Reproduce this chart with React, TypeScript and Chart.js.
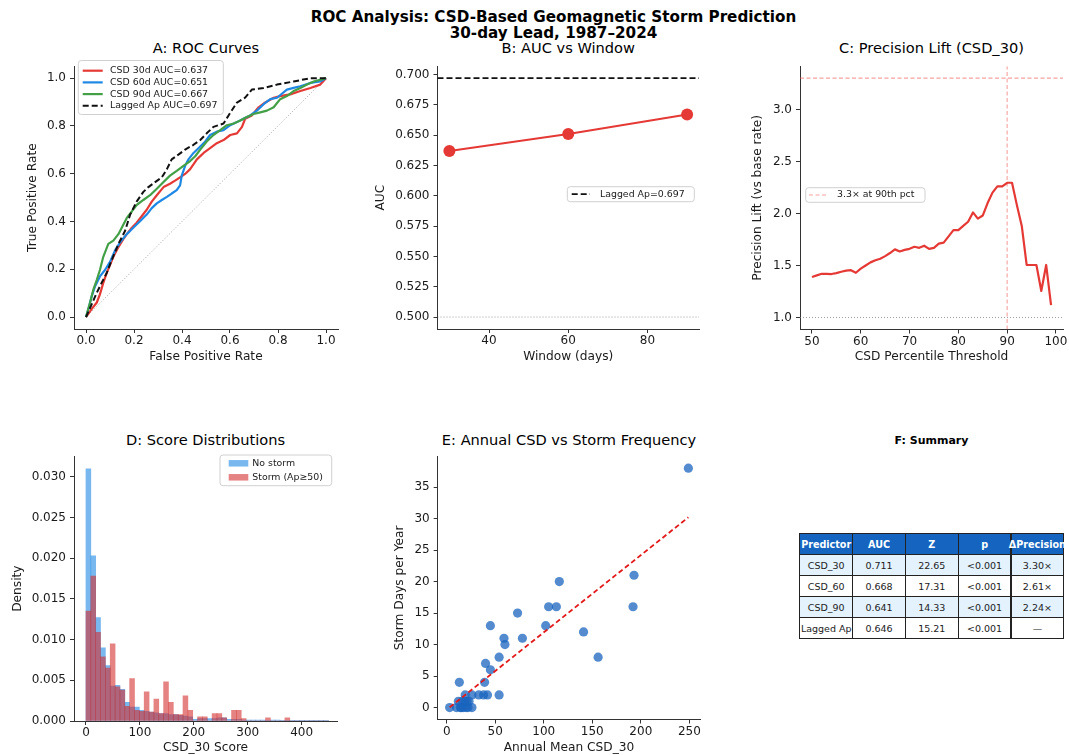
import React, { useEffect, useRef } from "react";
import { Chart, registerables } from "chart.js";

Chart.register(...registerables);

const FONT = "'DejaVu Sans', 'Noto Sans', sans-serif";

// ================= DATA =================
// Panel A – ROC curves (false positive rate / true positive rate)
const ROC30_FPR = [0, 0.024, 0.045, 0.058, 0.072, 0.086, 0.114, 0.135, 0.156, 0.17, 0.191, 0.211, 0.232, 0.253, 0.274, 0.295, 0.323, 0.35, 0.371, 0.392, 0.413, 0.434, 0.462, 0.49, 0.517, 0.545, 0.573, 0.601, 0.629, 0.65, 0.663, 0.691, 0.719, 0.747, 0.782, 0.809, 0.851, 0.893, 0.935, 0.976, 1];
const ROC30_TPR = [0, 0.034, 0.061, 0.095, 0.143, 0.184, 0.252, 0.293, 0.327, 0.347, 0.374, 0.395, 0.422, 0.449, 0.483, 0.51, 0.544, 0.558, 0.571, 0.585, 0.599, 0.619, 0.66, 0.687, 0.707, 0.728, 0.741, 0.762, 0.769, 0.796, 0.83, 0.844, 0.878, 0.898, 0.918, 0.925, 0.932, 0.946, 0.959, 0.973, 1];
const ROC60_FPR = [0, 0.01, 0.024, 0.038, 0.058, 0.079, 0.1, 0.121, 0.142, 0.17, 0.197, 0.225, 0.253, 0.274, 0.295, 0.316, 0.337, 0.357, 0.378, 0.392, 0.399, 0.413, 0.427, 0.448, 0.476, 0.497, 0.517, 0.545, 0.573, 0.601, 0.629, 0.656, 0.684, 0.712, 0.74, 0.768, 0.796, 0.837, 0.865, 0.893, 0.935, 0.976, 1];
const ROC60_TPR = [0, 0.034, 0.088, 0.129, 0.17, 0.197, 0.231, 0.279, 0.313, 0.347, 0.374, 0.401, 0.429, 0.456, 0.476, 0.49, 0.503, 0.517, 0.531, 0.551, 0.592, 0.633, 0.66, 0.687, 0.714, 0.735, 0.762, 0.776, 0.782, 0.803, 0.816, 0.83, 0.844, 0.864, 0.891, 0.912, 0.918, 0.952, 0.959, 0.966, 0.98, 0.986, 1];
const ROC90_FPR = [0, 0.017, 0.031, 0.045, 0.058, 0.072, 0.093, 0.114, 0.135, 0.149, 0.17, 0.191, 0.211, 0.239, 0.267, 0.295, 0.323, 0.35, 0.378, 0.406, 0.434, 0.455, 0.476, 0.503, 0.531, 0.559, 0.587, 0.615, 0.643, 0.67, 0.698, 0.726, 0.754, 0.782, 0.809, 0.837, 0.865, 0.893, 0.921, 0.949, 1];
const ROC90_TPR = [0, 0.061, 0.116, 0.156, 0.197, 0.252, 0.306, 0.32, 0.347, 0.374, 0.415, 0.442, 0.469, 0.49, 0.51, 0.537, 0.565, 0.592, 0.612, 0.633, 0.653, 0.673, 0.701, 0.735, 0.762, 0.782, 0.803, 0.81, 0.823, 0.837, 0.85, 0.857, 0.864, 0.878, 0.912, 0.925, 0.946, 0.959, 0.973, 0.986, 1];
const ROCAP_FPR = [0, 0.024, 0.045, 0.065, 0.086, 0.107, 0.135, 0.163, 0.184, 0.211, 0.239, 0.26, 0.288, 0.316, 0.337, 0.357, 0.385, 0.413, 0.448, 0.476, 0.503, 0.531, 0.573, 0.594, 0.629, 0.663, 0.691, 0.74, 0.796, 0.865, 0.935, 1];
const ROCAP_TPR = [0, 0.054, 0.102, 0.143, 0.184, 0.238, 0.306, 0.361, 0.429, 0.483, 0.524, 0.544, 0.565, 0.585, 0.619, 0.66, 0.68, 0.701, 0.721, 0.741, 0.769, 0.796, 0.81, 0.844, 0.898, 0.918, 0.952, 0.959, 0.973, 0.986, 1, 1];
const CHANCE_DIAG = [0, 1];
const ROC_LABELS = ["CSD 30d AUC=0.637", "CSD 60d AUC=0.651", "CSD 90d AUC=0.667", "Lagged Ap AUC=0.697"];

// Panel B – AUC vs window
const WINDOW_DAYS = [30, 60, 90];
const WINDOW_AUC = [0.637, 0.651, 0.667];
const LAGGED_AP_AUC = 0.697;
const CHANCE_AUC = 0.5;
const B_LEGEND_LABEL = "Lagged Ap=0.697";

// Panel C – precision lift
const PCT_THRESHOLDS = [50, 51, 52, 53, 54, 55, 56, 57, 58, 59, 60, 61, 62, 63, 64, 65, 66, 67, 68, 69, 70, 71, 72, 73, 74, 75, 76, 77, 78, 79, 80, 81, 82, 83, 84, 85, 86, 87, 88, 89, 90, 91, 92, 93, 94, 95, 96, 97, 98, 99];
const PRECISION_LIFT = [1.39, 1.405, 1.42, 1.42, 1.418, 1.427, 1.44, 1.45, 1.455, 1.43, 1.47, 1.5, 1.53, 1.55, 1.565, 1.59, 1.62, 1.655, 1.635, 1.65, 1.66, 1.68, 1.67, 1.69, 1.66, 1.67, 1.71, 1.72, 1.78, 1.84, 1.84, 1.88, 1.92, 2.01, 1.95, 1.98, 2.1, 2.2, 2.26, 2.26, 2.295, 2.295, 2.08, 1.88, 1.505, 1.505, 1.505, 1.255, 1.505, 1.12];
const PEAK_LIFT = 3.3;
const PEAK_PCT = 90;
const BASE_LIFT = 1.0;
const C_LEGEND_LABEL = "3.3× at 90th pct";

// Panel D – score distributions (density histograms)
const HIST_BIN_WIDTH = 9;
const HIST_BIN_LEFT = [0, 9, 18, 27, 36, 45, 54, 63, 72, 81, 90, 99, 108, 117, 126, 135, 144, 153, 162, 171, 180, 189, 198, 207, 216, 225, 234, 243, 252, 261, 270, 279, 288, 297, 306, 315, 324, 333, 342, 351, 360, 369, 378, 387, 396, 405, 414, 423, 432, 441];
const DENSITY_NO_STORM = [0.031, 0.0203, 0.0127, 0.009, 0.0068, 0.0043, 0.0044, 0.0039, 0.0023, 0.0017, 0.0017, 0.0013, 0.0012, 0.0011, 0.001, 0.0009, 0.0009, 0.0008, 0.0008, 0.0007, 0.0006, 0.0005, 0.0002, 0.0003, 0.0003, 0.0003, 0.0003, 0.0004, 0.0004, 0.0002, 0.0002, 0.0002, 0.0001, 0.0001, 0.0001, 0.0001, 0.0001, 0.00005, 0.0001, 0.0001, 0.00005, 0.00005, 0.00003, 0.00003, 0.00002, 0.00002, 0.00002, 0.00001, 0.00001, 0.00001];
const DENSITY_STORM = [0.0135, 0.0178, 0.0109, 0.0079, 0.0065, 0.0095, 0.0042, 0.0038, 0.0018, 0.0052, 0.0013, 0.0012, 0.0036, 0.0011, 0.0027, 0.0009, 0.0048, 0.0023, 0.0008, 0.0008, 0.0031, 0.0013, 0, 0.0005, 0.0005, 0, 0.0009, 0.0009, 0.0004, 0, 0.0013, 0.0013, 0.0003, 0, 0, 0, 0, 0.0004, 0, 0, 0, 0.0004, 0, 0, 0, 0, 0, 0, 0, 0];
const D_LEGEND_LABELS = ["No storm", "Storm (Ap≥50)"];

// Panel E – annual CSD vs storm frequency
const ANNUAL_CSD30 = [3, 10, 14, 17, 20, 22, 26, 12, 16, 19, 23, 19, 26, 33, 38, 42, 54, 13, 39, 45, 40, 54, 60, 59, 78, 45, 102, 73, 105, 113, 116, 141, 156, 192, 193, 249, 15, 21];
const STORM_DAYS = [0, 0, 0, 0, 0, 0, 0, 1, 1, 1, 1, 2, 2, 2, 2, 2, 2, 4, 4, 6, 7, 8, 10, 11, 11, 13, 13, 15, 16, 16, 20, 12, 8, 16, 21, 38, 0, 1];
const FIT_SLOPE = 0.1226;
const FIT_INTERCEPT = -0.33;

// Panel F – summary table
const TABLE_HEADER = ["Predictor", "AUC", "Z", "p", "ΔPrecision"];
const TABLE_PREDICTOR = ["CSD_30", "CSD_60", "CSD_90", "Lagged Ap"];
const TABLE_AUC = ["0.711", "0.668", "0.641", "0.646"];
const TABLE_Z = ["22.65", "17.31", "14.33", "15.21"];
const TABLE_P = ["<0.001", "<0.001", "<0.001", "<0.001"];
const TABLE_DPREC = ["3.30×", "2.61×", "2.24×", "—"];

// Titles / tick labels
const SUPTITLE = ["ROC Analysis: CSD-Based Geomagnetic Storm Prediction", "30-day Lead, 1987–2024"];
const PANEL_TITLES = ["A: ROC Curves", "B: AUC vs Window", "C: Precision Lift (CSD_30)", "D: Score Distributions", "E: Annual CSD vs Storm Frequency"];
const F_TITLE = "F: Summary";
const A_TICKS = [0, 0.2, 0.4, 0.6, 0.8, 1.0];
const B_X_TICKS = [40, 60, 80];
const B_Y_TICKS = [0.5, 0.525, 0.55, 0.575, 0.6, 0.625, 0.65, 0.675, 0.7];
const C_X_TICKS = [50, 60, 70, 80, 90, 100];
const C_Y_TICKS = [1.0, 1.5, 2.0, 2.5, 3.0];
const D_X_TICKS = [0, 100, 200, 300, 400];
const D_Y_TICKS = [0, 0.005, 0.01, 0.015, 0.02, 0.025, 0.03];
const E_X_TICKS = [0, 50, 100, 150, 200, 250];
const E_Y_TICKS = [0, 5, 10, 15, 20, 25, 30, 35];

// ================= STYLE / LAYOUT =================
const RED = "#e53935";
const BLUE = "#1e88e5";
const GREEN = "#43a047";
const HIST_BLUE = "rgba(30,136,229,0.6)";
const HIST_RED = "rgba(211,47,47,0.6)";
const TEXT = "#1a1a1a";
const SPINE = "#333333";
const TICK_FS = 12;
const LABEL_FS = 12.2;
const TITLE_FS = 14.6;
const LEGEND_FS = 9.4;

type Box = { left: number; top: number; width: number; height: number };
type Area = { L: number; T: number; R: number; B: number };
type Panel = { box: Box; area: Area; yTitleX: number; xTitleY: number; titleY: number };

const PA: Panel = { box: { left: 10, top: 55, width: 335, height: 317 }, area: { L: 74, T: 60, R: 338, B: 329 }, yTitleX: 33, xTitleY: 356.5, titleY: 48 };
const PB: Panel = { box: { left: 365, top: 55, width: 342, height: 317 }, area: { L: 437.5, T: 60, R: 699, B: 329 }, yTitleX: 380.5, xTitleY: 356.5, titleY: 48 };
const PC: Panel = { box: { left: 745, top: 55, width: 324, height: 317 }, area: { L: 800, T: 59.5, R: 1063, B: 329.5 }, yTitleX: 758.3, xTitleY: 356.5, titleY: 48 };
const PD: Panel = { box: { left: 5, top: 445, width: 345, height: 312 }, area: { L: 74, T: 450.7, R: 337, B: 721 }, yTitleX: 18.3, xTitleY: 748, titleY: 440 };
const PE: Panel = { box: { left: 385, top: 445, width: 325, height: 312 }, area: { L: 437.7, T: 451.3, R: 700.3, B: 719.5 }, yTitleX: 400, xTitleY: 748, titleY: 440 };

const A_RANGE = { xmin: -0.05, xmax: 1.05, ymin: -0.05, ymax: 1.05 };
const B_RANGE = { xmin: 27, xmax: 93, ymin: 0.49015, ymax: 0.70685 };
const C_RANGE = { xmin: 47.55, xmax: 101.45, ymin: 0.885, ymax: 3.415 };
const D_RANGE = { xmin: -22.2, xmax: 465.6, ymin: 0, ymax: 0.03255 };
const E_RANGE = { xmin: -9.3, xmax: 261.3, ymin: -1.9, ymax: 39.9 };

const SUP_CX = 553.5;
const SUP_Y = [17, 33];
const F_TITLE_POS = { cx: 931.5, cy: 441 };
const TABLE_POS = { left: 799.3, top: 533.3, colW: 52.8, rowH: 21 };

// ================= HELPERS =================
const xy = (xs: number[], ys: number[]) => xs.map((x, i) => ({ x, y: ys[i] }));

function makeAxis(kind: "x" | "y", p: Panel, cfg: { min: number; max: number; ticks: number[]; digits: number; title: string }) {
  const { box, area } = p;
  const isX = kind === "x";
  const size = isX ? box.top + box.height - area.B : area.L - box.left;
  const half = (LABEL_FS * 1.2) / 2;
  const titlePad = isX ? box.top + box.height - p.xTitleY - half : p.yTitleX - box.left - half;
  return {
    type: "linear",
    position: isX ? "bottom" : "left",
    min: cfg.min,
    max: cfg.max,
    bounds: "data",
    offset: false,
    afterBuildTicks: (s: any) => {
      s.ticks = cfg.ticks.map((v) => ({ value: v }));
    },
    afterFit: (s: any) => {
      if (isX) s.height = size;
      else s.width = size;
    },
    ticks: {
      autoSkip: false,
      maxRotation: 0,
      minRotation: 0,
      padding: isX ? 1 : 4,
      color: TEXT,
      font: { family: FONT, size: TICK_FS },
      callback: (v: any) => Number(v).toFixed(cfg.digits),
    },
    grid: { display: true, drawOnChartArea: false, drawTicks: true, tickLength: 4, color: SPINE, lineWidth: 1, offset: false },
    border: { display: true, color: SPINE, width: 1 },
    title: {
      display: true,
      text: cfg.title,
      color: TEXT,
      font: { family: FONT, size: LABEL_FS },
      padding: isX ? { top: 0, bottom: titlePad } : { top: titlePad, bottom: 0 },
    },
  };
}

function baseOptions(p: Panel, x: any, y: any) {
  const { box, area } = p;
  return {
    responsive: false,
    maintainAspectRatio: false,
    animation: false,
    events: [],
    layout: { padding: { left: 0, bottom: 0, top: area.T - box.top, right: box.left + box.width - area.R } },
    plugins: { legend: { display: false }, title: { display: false }, tooltip: { enabled: false } },
    scales: { x, y },
  };
}

type LegendItem = { label: string; color: string; kind: "line" | "patch"; dash?: number[]; width?: number };
type LegendCfg = { left: number; top: number; width: number; height: number; firstRowY: number; rowStep: number; sx0: number; sx1: number; textX: number; patchH?: number; items: LegendItem[] };

function legendPlugin(box: Box, cfg: LegendCfg) {
  return {
    id: "panelLegend",
    afterDraw(chart: any) {
      const ctx: CanvasRenderingContext2D = chart.ctx;
      const ox = cfg.left - box.left;
      const oy = cfg.top - box.top;
      const r = 3;
      ctx.save();
      ctx.beginPath();
      ctx.moveTo(ox + r, oy);
      ctx.lineTo(ox + cfg.width - r, oy);
      ctx.quadraticCurveTo(ox + cfg.width, oy, ox + cfg.width, oy + r);
      ctx.lineTo(ox + cfg.width, oy + cfg.height - r);
      ctx.quadraticCurveTo(ox + cfg.width, oy + cfg.height, ox + cfg.width - r, oy + cfg.height);
      ctx.lineTo(ox + r, oy + cfg.height);
      ctx.quadraticCurveTo(ox, oy + cfg.height, ox, oy + cfg.height - r);
      ctx.lineTo(ox, oy + r);
      ctx.quadraticCurveTo(ox, oy, ox + r, oy);
      ctx.closePath();
      ctx.fillStyle = "rgba(255,255,255,0.85)";
      ctx.fill();
      ctx.strokeStyle = "#d0d0d0";
      ctx.lineWidth = 1;
      ctx.stroke();
      ctx.font = `${LEGEND_FS}px ${FONT}`;
      ctx.textBaseline = "middle";
      ctx.textAlign = "left";
      cfg.items.forEach((it, i) => {
        const cy = cfg.firstRowY - box.top + i * cfg.rowStep;
        const x0 = cfg.sx0 - box.left;
        const x1 = cfg.sx1 - box.left;
        if (it.kind === "patch") {
          const h = cfg.patchH || 6.5;
          ctx.fillStyle = it.color;
          ctx.fillRect(x0, cy - h / 2, x1 - x0, h);
        } else {
          ctx.setLineDash(it.dash || []);
          ctx.strokeStyle = it.color;
          ctx.lineWidth = it.width || 2;
          ctx.beginPath();
          ctx.moveTo(x0, cy);
          ctx.lineTo(x1, cy);
          ctx.stroke();
          ctx.setLineDash([]);
        }
        ctx.fillStyle = TEXT;
        ctx.fillText(it.label, cfg.textX - box.left, cy);
      });
      ctx.restore();
    },
  };
}

const lineDs = (data: any[], color: string, width: number, order: number, dash: number[] = []) => ({
  data,
  showLine: true,
  fill: false,
  borderColor: color,
  backgroundColor: color,
  borderWidth: width,
  borderDash: dash,
  borderJoinStyle: "round",
  pointRadius: 0,
  pointHoverRadius: 0,
  tension: 0,
  order,
});

// ================= CHART CONFIGS =================
function configA(): any {
  const x = makeAxis("x", PA, { min: A_RANGE.xmin, max: A_RANGE.xmax, ticks: A_TICKS, digits: 1, title: "False Positive Rate" });
  const y = makeAxis("y", PA, { min: A_RANGE.ymin, max: A_RANGE.ymax, ticks: A_TICKS, digits: 1, title: "True Positive Rate" });
  return {
    type: "scatter",
    data: {
      datasets: [
        lineDs(xy(ROCAP_FPR, ROCAP_TPR), "#111111", 2, 0, [6, 3]),
        lineDs(xy(ROC90_FPR, ROC90_TPR), GREEN, 2.2, 1),
        lineDs(xy(ROC60_FPR, ROC60_TPR), BLUE, 2.2, 2),
        lineDs(xy(ROC30_FPR, ROC30_TPR), RED, 2.2, 3),
        lineDs(xy(CHANCE_DIAG, CHANCE_DIAG), "rgba(110,110,110,0.8)", 0.8, 4, [1, 2]),
      ],
    },
    options: baseOptions(PA, x, y),
    plugins: [
      legendPlugin(PA.box, {
        left: 78.3, top: 60.5, width: 145, height: 54, firstRowY: 70.7, rowStep: 11.7, sx0: 82.7, sx1: 102.7, textX: 110,
        items: [
          { label: ROC_LABELS[0], color: RED, kind: "line", width: 2.2 },
          { label: ROC_LABELS[1], color: BLUE, kind: "line", width: 2.2 },
          { label: ROC_LABELS[2], color: GREEN, kind: "line", width: 2.2 },
          { label: ROC_LABELS[3], color: "#111111", kind: "line", width: 2, dash: [6, 3] },
        ],
      }),
    ],
  };
}

function configB(): any {
  const x = makeAxis("x", PB, { min: B_RANGE.xmin, max: B_RANGE.xmax, ticks: B_X_TICKS, digits: 0, title: "Window (days)" });
  const y = makeAxis("y", PB, { min: B_RANGE.ymin, max: B_RANGE.ymax, ticks: B_Y_TICKS, digits: 3, title: "AUC" });
  const main = lineDs(xy(WINDOW_DAYS, WINDOW_AUC), RED, 2, 0);
  Object.assign(main, { pointRadius: 6, pointBackgroundColor: RED, pointBorderWidth: 0 });
  return {
    type: "scatter",
    data: {
      datasets: [
        main,
        lineDs(xy([B_RANGE.xmin, B_RANGE.xmax], [LAGGED_AP_AUC, LAGGED_AP_AUC]), "#111111", 1.8, 1, [6, 3]),
        lineDs(xy([B_RANGE.xmin, B_RANGE.xmax], [CHANCE_AUC, CHANCE_AUC]), "rgba(120,120,120,0.8)", 0.9, 2, [1, 2]),
      ],
    },
    options: baseOptions(PB, x, y),
    plugins: [
      legendPlugin(PB.box, {
        left: 567.3, top: 186.7, width: 127, height: 15, firstRowY: 194.2, rowStep: 12, sx0: 571.7, sx1: 590, textX: 600,
        items: [{ label: B_LEGEND_LABEL, color: "#111111", kind: "line", width: 1.8, dash: [6, 3] }],
      }),
    ],
  };
}

function configC(): any {
  const x = makeAxis("x", PC, { min: C_RANGE.xmin, max: C_RANGE.xmax, ticks: C_X_TICKS, digits: 0, title: "CSD Percentile Threshold" });
  const y = makeAxis("y", PC, { min: C_RANGE.ymin, max: C_RANGE.ymax, ticks: C_Y_TICKS, digits: 1, title: "Precision Lift (vs base rate)" });
  const guide = "rgba(239,83,80,0.55)";
  return {
    type: "scatter",
    data: {
      datasets: [
        lineDs(xy(PCT_THRESHOLDS, PRECISION_LIFT), RED, 2.2, 0),
        lineDs(xy([PEAK_PCT, PEAK_PCT], [C_RANGE.ymin, C_RANGE.ymax]), guide, 1.1, 1, [4, 2.5]),
        lineDs(xy([C_RANGE.xmin, C_RANGE.xmax], [PEAK_LIFT, PEAK_LIFT]), guide, 1.1, 2, [4, 2.5]),
        lineDs(xy([C_RANGE.xmin, C_RANGE.xmax], [BASE_LIFT, BASE_LIFT]), "rgba(120,120,120,0.8)", 0.9, 3, [1, 2]),
      ],
    },
    options: baseOptions(PC, x, y),
    plugins: [
      legendPlugin(PC.box, {
        left: 805.7, top: 187.7, width: 119.3, height: 14.6, firstRowY: 195, rowStep: 12, sx0: 809, sx1: 827.5, textX: 837,
        items: [{ label: C_LEGEND_LABEL, color: guide, kind: "line", width: 1.1, dash: [4, 2.5] }],
      }),
    ],
  };
}

function configD(): any {
  const x = makeAxis("x", PD, { min: D_RANGE.xmin, max: D_RANGE.xmax, ticks: D_X_TICKS, digits: 0, title: "CSD_30 Score" });
  const y = makeAxis("y", PD, { min: D_RANGE.ymin, max: D_RANGE.ymax, ticks: D_Y_TICKS, digits: 3, title: "Density" });
  const centers = HIST_BIN_LEFT.map((e) => e + HIST_BIN_WIDTH / 2);
  const bar = (vals: number[], color: string, order: number) => ({
    data: xy(centers, vals),
    backgroundColor: color,
    borderWidth: 0,
    barPercentage: 1,
    categoryPercentage: 1,
    grouped: false,
    order,
  });
  return {
    type: "bar",
    data: { datasets: [bar(DENSITY_STORM, HIST_RED, 0), bar(DENSITY_NO_STORM, HIST_BLUE, 1)] },
    options: baseOptions(PD, x, y),
    plugins: [
      legendPlugin(PD.box, {
        left: 220, top: 455, width: 111.7, height: 30.7, firstRowY: 463.3, rowStep: 14, sx0: 228.7, sx1: 248.3, textX: 252.3, patchH: 6.5,
        items: [
          { label: D_LEGEND_LABELS[0], color: HIST_BLUE, kind: "patch" },
          { label: D_LEGEND_LABELS[1], color: HIST_RED, kind: "patch" },
        ],
      }),
    ],
  };
}

function configE(): any {
  const x = makeAxis("x", PE, { min: E_RANGE.xmin, max: E_RANGE.xmax, ticks: E_X_TICKS, digits: 0, title: "Annual Mean CSD_30" });
  const y = makeAxis("y", PE, { min: E_RANGE.ymin, max: E_RANGE.ymax, ticks: E_Y_TICKS, digits: 0, title: "Storm Days per Year" });
  const xLo = Math.min(...ANNUAL_CSD30);
  const xHi = Math.max(...ANNUAL_CSD30);
  const fitX = [xLo, xHi];
  const fitY = fitX.map((v) => FIT_SLOPE * v + FIT_INTERCEPT);
  return {
    type: "scatter",
    data: {
      datasets: [
        lineDs(xy(fitX, fitY), "#e31a1c", 1.8, 0, [5, 3]),
        {
          data: xy(ANNUAL_CSD30, STORM_DAYS),
          pointRadius: 4.6,
          pointBackgroundColor: "rgba(25,100,190,0.75)",
          pointBorderWidth: 0,
          showLine: false,
          order: 1,
        },
      ],
    },
    options: baseOptions(PE, x, y),
  };
}

// ================= COMPONENT =================
function Title({ text, cx, cy, size, bold }: { text: string; cx: number; cy: number; size: number; bold?: boolean }) {
  const lh = Math.round(size * 1.25);
  return (
    <div
      style={{
        position: "absolute",
        left: cx - 300,
        width: 600,
        top: cy - lh / 2,
        height: lh,
        lineHeight: `${lh}px`,
        textAlign: "center",
        whiteSpace: "nowrap",
        fontSize: size,
        fontWeight: bold ? "bold" : "normal",
        color: "#000",
      }}
    >
      {text}
    </div>
  );
}

function SummaryTable() {
  const rows = [TABLE_HEADER, ...TABLE_PREDICTOR.map((p, i) => [p, TABLE_AUC[i], TABLE_Z[i], TABLE_P[i], TABLE_DPREC[i]])];
  const { left, top, colW, rowH } = TABLE_POS;
  const cells: any[] = [];
  rows.forEach((row, r) => {
    row.forEach((txt, c) => {
      const header = r === 0;
      const bg = header ? "#1565c0" : r % 2 === 1 ? "#e3f2fd" : "#ffffff";
      cells.push(
        <div
          key={`${r}-${c}`}
          style={{
            position: "absolute",
            left: left + c * colW,
            top: top + r * rowH,
            width: colW + 1,
            height: rowH + 1,
            boxSizing: "border-box",
            border: "1px solid #222",
            background: bg,
            display: "flex",
            alignItems: "center",
            justifyContent: "center",
            whiteSpace: "nowrap",
            fontSize: header ? 9.6 : 9.5,
            fontWeight: header ? "bold" : "normal",
            color: header ? "#ffffff" : "#222",
            overflow: "visible",
          }}
        >
          <span>{txt}</span>
        </div>
      );
    });
  });
  return <>{cells}</>;
}

export default function App() {
  const refA = useRef<HTMLCanvasElement>(null);
  const refB = useRef<HTMLCanvasElement>(null);
  const refC = useRef<HTMLCanvasElement>(null);
  const refD = useRef<HTMLCanvasElement>(null);
  const refE = useRef<HTMLCanvasElement>(null);

  useEffect(() => {
    Chart.defaults.font.family = FONT;
    Chart.defaults.color = TEXT;
    const charts: Chart[] = [];
    const pairs: [React.RefObject<HTMLCanvasElement>, () => any][] = [
      [refA, configA],
      [refB, configB],
      [refC, configC],
      [refD, configD],
      [refE, configE],
    ];
    pairs.forEach(([ref, cfg]) => {
      if (ref.current) charts.push(new Chart(ref.current, cfg()));
    });
    return () => charts.forEach((c) => c.destroy());
  }, []);

  const canvas = (ref: React.RefObject<HTMLCanvasElement>, p: Panel) => (
    <canvas
      ref={ref}
      width={p.box.width}
      height={p.box.height}
      style={{ position: "absolute", left: p.box.left, top: p.box.top, width: p.box.width, height: p.box.height }}
    />
  );

  const panels = [PA, PB, PC, PD, PE];

  return (
    <div
      style={{
        position: "absolute",
        left: 0,
        top: 0,
        width: 1069,
        height: 755,
        overflow: "hidden",
        background: "#ffffff",
        fontFamily: FONT,
      }}
    >
      {SUPTITLE.map((t, i) => (
        <Title key={t} text={t} cx={SUP_CX} cy={SUP_Y[i]} size={15.2} bold />
      ))}
      {panels.map((p, i) => (
        <Title key={PANEL_TITLES[i]} text={PANEL_TITLES[i]} cx={(p.area.L + p.area.R) / 2} cy={p.titleY} size={TITLE_FS} />
      ))}
      <Title text={F_TITLE} cx={F_TITLE_POS.cx} cy={F_TITLE_POS.cy} size={11} bold />
      {canvas(refA, PA)}
      {canvas(refB, PB)}
      {canvas(refC, PC)}
      {canvas(refD, PD)}
      {canvas(refE, PE)}
      <SummaryTable />
    </div>
  );
}
